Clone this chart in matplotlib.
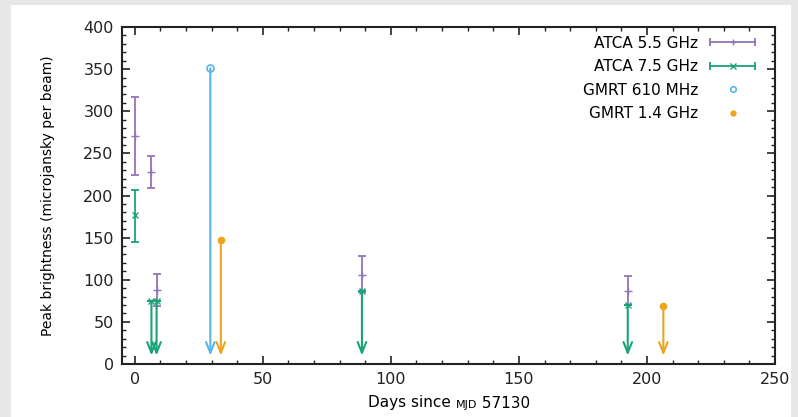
import matplotlib
matplotlib.use('Agg')
import matplotlib.pyplot as plt
from matplotlib.lines import Line2D
from matplotlib.legend_handler import HandlerBase
from matplotlib.offsetbox import TextArea, HPacker, AnchoredOffsetbox
from matplotlib.patches import Rectangle
from matplotlib.ticker import MultipleLocator

# ATCA 5.5 GHz detections (days, flux, error bar ends)
atca55_day = [0, 6.5, 8.8, 88.7, 192.5]
atca55_flux = [271, 228, 88, 106, 87]
atca55_low = [224, 209, 69, 85, 70]
atca55_high = [317, 247, 107, 128, 104]

# ATCA 7.5 GHz: one detection, the rest upper limits
atca75_day = [0]
atca75_flux = [177]
atca75_low = [145]
atca75_high = [207]
atca75_lim_day = [6.5, 8.5, 88.7, 192.5]
atca75_lim = [75, 75, 87, 70]

# GMRT upper limits
gmrt610_day = [29.5]
gmrt610_lim = [351]
gmrt14_day = [33.6, 206.4]
gmrt14_lim = [147, 69]

arrow_end = 10

purple = '#9473b8'
green = '#1aa37a'
blue = '#58b4e6'
orange = '#eda41c'

plt.rcParams['font.family'] = 'DejaVu Sans'
plt.rcParams['font.size'] = 11

fig = plt.figure(figsize=(7.98, 4.17), dpi=100)
fig.patch.set_facecolor('#e7e7e7')
fig.patches.append(Rectangle((11 / 798, 0), 780 / 798, 412 / 417, transform=fig.transFigure,
                             facecolor='white', edgecolor='none', zorder=-1))
ax = fig.add_axes([122 / 798, 53 / 417, 653 / 798, 337 / 417])


def err(flux, low, high):
    return [[f - l for f, l in zip(flux, low)], [h - f for f, h in zip(flux, high)]]


def limit_arrows(days, vals, color):
    for d, v in zip(days, vals):
        ax.annotate('', xy=(d, arrow_end), xytext=(d, v),
                    arrowprops=dict(arrowstyle='->,head_length=0.7,head_width=0.28',
                                    color=color, lw=1.5, shrinkA=0, shrinkB=0))


ax.errorbar(atca55_day, atca55_flux, yerr=err(atca55_flux, atca55_low, atca55_high),
            fmt='+', color=purple, ms=6, capsize=3, elinewidth=1.3, capthick=1.3)
ax.errorbar(atca75_day, atca75_flux, yerr=err(atca75_flux, atca75_low, atca75_high),
            fmt='x', color=green, ms=5, capsize=3, elinewidth=1.3, capthick=1.3)
ax.errorbar(atca75_lim_day, atca75_lim, yerr=0, fmt='x', color=green, ms=5,
            capsize=3, capthick=1.3)
limit_arrows(atca75_lim_day, atca75_lim, green)
ax.plot(gmrt610_day, gmrt610_lim, 'o', mfc='none', mec=blue, ms=5, mew=1.2)
limit_arrows(gmrt610_day, gmrt610_lim, blue)
ax.plot(gmrt14_day, gmrt14_lim, 'o', color=orange, ms=4.5)
limit_arrows(gmrt14_day, gmrt14_lim, orange)

ax.set_xlim(-5, 250)
ax.set_ylim(0, 400)
ax.xaxis.set_major_locator(MultipleLocator(50))
ax.xaxis.set_minor_locator(MultipleLocator(10))
ax.yaxis.set_major_locator(MultipleLocator(50))
ax.yaxis.set_minor_locator(MultipleLocator(10))
ax.tick_params(which='both', direction='in', top=True, right=True, colors='#222222')
ax.tick_params(which='major', length=6, width=1.2, pad=6, labelsize=11.5)
ax.tick_params(which='minor', length=3, width=1)
for s in ax.spines.values():
    s.set_linewidth(1.5)
    s.set_color('#222222')

ax.set_ylabel('Peak brightness (microjansky per beam)', fontsize=10, labelpad=20)

# x label with small-caps style MJD
label = HPacker(children=[TextArea('Days since ', textprops=dict(size=11)),
                          TextArea('MJD', textprops=dict(size=8)),
                          TextArea(' 57130', textprops=dict(size=11))],
                align='baseline', pad=0, sep=0)
fig.add_artist(AnchoredOffsetbox(loc='center', child=label, frameon=False, pad=0, borderpad=0,
                                 bbox_to_anchor=(449 / 798, 1 - 403 / 417),
                                 bbox_transform=fig.transFigure))


class ErrHandler(HandlerBase):
    def __init__(self, marker):
        super().__init__()
        self.marker = marker

    def create_artists(self, legend, orig_handle, xdescent, ydescent, width, height, fontsize, trans):
        c = orig_handle.get_color()
        y = height / 2 - ydescent
        x0, x1 = -xdescent, width - xdescent
        line = Line2D([x0, x1], [y, y], color=c, lw=1.3, transform=trans)
        caps = Line2D([x0, x1], [y, y], ls='none', marker='|', ms=6, mew=1.3, color=c, transform=trans)
        mid = Line2D([(x0 + x1) / 2], [y], ls='none', marker=self.marker, ms=4, color=c, transform=trans)
        return [line, caps, mid]


h55 = Line2D([], [], color=purple)
h75 = Line2D([], [], color=green)
h610 = Line2D([], [], ls='none', marker='o', mfc='none', mec=blue, ms=4, mew=1.2)
h14 = Line2D([], [], ls='none', marker='o', color=orange, ms=3.5)
ax.legend([h55, h75, h610, h14], ['ATCA 5.5 GHz', 'ATCA 7.5 GHz', 'GMRT 610 MHz', 'GMRT 1.4 GHz'],
          handler_map={h55: ErrHandler('+'), h75: ErrHandler('x')},
          loc='upper right', bbox_to_anchor=(0.99, 1.015), frameon=False, markerfirst=False,
          handlelength=2.9, handletextpad=0.8, labelspacing=0.55, numpoints=1, fontsize=11)

fig.savefig('out.png', dpi=100, facecolor=fig.get_facecolor())
